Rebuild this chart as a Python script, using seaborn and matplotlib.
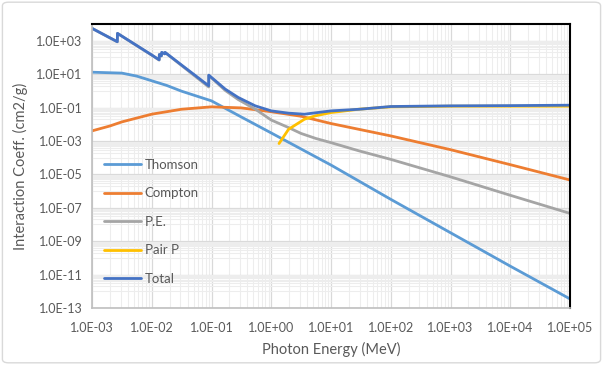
import numpy as np
import pandas as pd
import matplotlib
matplotlib.use('Agg')
import matplotlib.pyplot as plt
from matplotlib.ticker import FixedLocator, FuncFormatter, NullFormatter
from matplotlib.patches import FancyBboxPatch
import seaborn as sns

# values (photon energy in MeV, coefficient in cm2/g)
thomson_e = [1e-3, 3.16e-3, 5.6e-3, 1e-2, 1.78e-2, 3.16e-2, 1e-1, 3.16e-1, 1, 10, 100, 1e3, 1e4, 1e5]
thomson_v = [13, 11.5, 7.6, 4.0, 2.1, 0.95, 0.25, 0.027, 3.0e-3, 3.6e-5, 3.2e-7, 3.2e-9, 3.2e-11, 3.5e-13]

compton_e = [1e-3, 2e-3, 3.16e-3, 1e-2, 3.16e-2, 1e-1, 3.16e-1, 1, 3.16, 10, 100, 1e3, 1e4, 1e5]
compton_v = [4e-3, 7.9e-3, 0.0138, 0.04, 0.079, 0.11, 0.095, 0.056, 0.03, 0.011, 2.0e-3, 3.0e-4, 3.8e-5, 4.6e-6]

pe_e = [1e-3, 2.65e-3, 2.67e-3, 1e-2, 1.33e-2, 1.34e-2, 1.45e-2, 1.47e-2, 1.65e-2, 1.67e-2,
        0.0898, 0.09, 0.17, 0.28, 0.54, 1, 1.95, 3.16, 5.6, 10, 30, 100, 1e3, 1e4, 1e5]
pe_v = [5490, 860, 2740, 136, 69, 147, 122, 197, 162, 197,
        1.7, 8.3, 1.05, 0.3, 0.08, 0.0178, 0.0063, 0.0028, 1.4e-3, 7.9e-4, 2.5e-4,
        7.9e-5, 7.1e-6, 5.6e-7, 4.6e-8]

pair_e = [1.35, 1.95, 3.6, 5.5, 10, 30, 100, 1e3, 1e4, 1e5]
pair_v = [7e-4, 5e-3, 0.02, 0.032, 0.05, 0.08, 0.11, 0.12, 0.12, 0.12]

total_e = [1e-3, 2.65e-3, 2.67e-3, 1e-2, 1.33e-2, 1.34e-2, 1.45e-2, 1.47e-2, 1.65e-2, 1.67e-2,
           0.0898, 0.09, 0.17, 0.28, 0.54, 1, 1.95, 3.6, 10, 30, 100, 1e3, 1e4, 1e5]
total_v = [5500, 870, 2750, 140, 72, 150, 125, 200, 165, 200,
           2.0, 8.7, 1.26, 0.4, 0.126, 0.063, 0.046, 0.040, 0.063, 0.079, 0.115, 0.126, 0.13, 0.138]

series_names = ['Thomson', 'Compton', 'P.E.', 'Pair P', 'Total']
colors = ['#5B9BD5', '#ED7D31', '#A5A5A5', '#FFC000', '#4472C4']

# long table for seaborn
frames = []
for name, e, v in zip(series_names,
                      [thomson_e, compton_e, pe_e, pair_e, total_e],
                      [thomson_v, compton_v, pe_v, pair_v, total_v]):
    frames.append(pd.DataFrame({'energy': e, 'coeff': v, 'series': name}))
df = pd.concat(frames, ignore_index=True)

sns.set_theme(style='white')
plt.rcParams['font.family'] = ['Lato', 'DejaVu Sans']

fig = plt.figure(figsize=(6.03, 3.65), dpi=100)
ax = fig.add_axes([92 / 603, 1 - 308 / 365, 478 / 603, 284 / 365])

# chart border like the spreadsheet chart area
fig.patches.append(FancyBboxPatch((0.004, 0.006), 0.992, 0.988,
                                  boxstyle='round,pad=0,rounding_size=0.01',
                                  transform=fig.transFigure, fill=False,
                                  edgecolor='#D9D9D9', linewidth=1.0))

ax.set_xscale('log')
ax.set_yscale('log')

sns.lineplot(data=df, x='energy', y='coeff', hue='series', hue_order=series_names,
             palette=colors, sort=False, estimator=None, linewidth=2.0, ax=ax)

ax.set_xlim(1e-3, 1e5)
ax.set_ylim(1e-13, 1e4)

# major / minor ticks like excel (y major every 2 decades)
ax.xaxis.set_major_locator(FixedLocator([10.0 ** k for k in range(-3, 6)]))
ax.xaxis.set_minor_locator(FixedLocator([m * 10.0 ** k for k in range(-3, 5) for m in range(2, 10)]))
ax.yaxis.set_major_locator(FixedLocator([10.0 ** k for k in range(-13, 4, 2)]))
ax.yaxis.set_minor_locator(FixedLocator([m * 10.0 ** k for k in range(-12, 4, 2) for m in range(1, 10)]))
fmt = FuncFormatter(lambda v, p: f'{v:.1E}')
ax.xaxis.set_major_formatter(fmt)
ax.yaxis.set_major_formatter(fmt)
ax.xaxis.set_minor_formatter(NullFormatter())
ax.yaxis.set_minor_formatter(NullFormatter())

ax.grid(which='major', color='#D9D9D9', linewidth=0.9)
ax.grid(which='minor', color='#EDEDED', linewidth=0.8)
ax.set_axisbelow(True)

for s in ['left', 'bottom']:
    ax.spines[s].set_color('#BFBFBF')
    ax.spines[s].set_linewidth(1.2)
for s in ['top', 'right']:
    ax.spines[s].set_color('black')
    ax.spines[s].set_linewidth(1.5)

ax.tick_params(which='major', axis='both', direction='out', length=4, width=1,
               color='#BFBFBF', labelsize=9, labelcolor='#595959', pad=3)
ax.tick_params(which='minor', length=0)
ax.tick_params(axis='x', pad=6)

ax.set_xlabel('Photon Energy (MeV)', fontsize=10.5, color='#595959', labelpad=6)
ax.set_ylabel('Interaction Coeff. (cm2/g)', fontsize=10.5, color='#595959', labelpad=6)

leg = ax.legend(loc='center left', bbox_to_anchor=(0.0, 0.303), frameon=False,
                fontsize=9.5, handlelength=2.8, handletextpad=0.3, labelspacing=1.25,
                borderaxespad=0.5)
for t in leg.get_texts():
    t.set_color('#595959')

plt.savefig('out.png', dpi=100)
